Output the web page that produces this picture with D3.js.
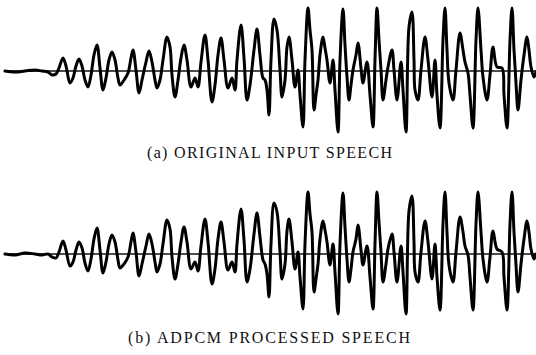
<!DOCTYPE html>
<html>
<head>
<meta charset="utf-8">
<script src="https://cdn.jsdelivr.net/npm/d3@7"></script>
<style>
  html, body { margin: 0; padding: 0; background: #fff; }
  svg { display: block; }
  .cap { font-family: "Liberation Serif", "DejaVu Serif", serif; font-size: 16px; fill: #111; }
</style>
</head>
<body>
<svg id="chart" width="536" height="355"></svg>
<script>
// sample index (time axis)
const samples = [
  0, 10, 20, 30, 37, 43, 47, 51, 54, 58, 61, 65, 68, 71, 74, 77, 80, 83, 86, 89,
  92, 95, 98, 101, 104, 107, 110, 113, 115, 119, 123, 126, 128, 131, 134, 137, 141, 144, 147, 150,
  152, 155, 158, 162, 165, 167, 170, 173, 176, 179, 182, 186, 190, 193, 196, 200, 203, 207, 210, 213,
  216, 219, 223, 227, 230, 232, 236, 239, 242, 245, 249, 252, 255, 258, 260, 262, 264, 266, 269, 272,
  275, 277, 280, 282, 284, 287, 290, 293, 295, 298, 300, 303, 305, 307, 309, 311, 313, 315, 318, 320,
  322, 325, 328, 330, 333, 335, 338, 340, 342, 344, 346, 348, 351, 353, 356, 358, 362, 365, 368, 370,
  372, 374, 376, 378, 381, 383, 387, 389, 392, 396, 398, 401, 404, 407, 409, 410, 413, 416, 420, 423,
  427, 430, 432, 435, 438, 440, 442, 444, 448, 451, 455, 458, 460, 463, 465, 468, 471, 473, 476, 478,
  482, 485, 488, 492, 497, 499, 502, 505, 507, 509, 511, 513, 516, 519, 522, 524, 526, 529, 531
];

// (a) original input speech amplitude
const original = [
  0, -1, 0, 1, 0, -1, -4, -3, 3, 13, 5, -12, -7, 5, 12, 5, -9, -16, -4, 16,
  26, 3, -19, -7, 11, 19, 11, -7, -14, -9, -2, 13, 21, 1, -22, -9, 9, 20, 9, -9,
  -17, -9, 11, 34, 24, -4, -26, -9, 13, 26, 11, -16, -7, -16, 9, 36, 11, -31, -14, 16,
  33, 11, -17, -7, -19, 11, 46, 13, -29, -14, 21, 42, 16, -7, -9, -19, -44, 11, 52, 41,
  1, -26, -9, 24, 34, 11, -16, 1, -24, -56, 11, 63, 41, 21, -39, -24, -9, 16, 34, 23,
  11, -12, 11, -19, -61, 11, 62, 26, -6, -29, -14, 1, 16, 28, 3, -12, 9, -24, -56, 11,
  63, 31, 1, -29, -9, 4, 21, 1, -29, 9, -19, -61, 44, 59, 11, -19, -29, 1, 34, 11,
  -26, 11, -24, -57, 31, 63, 21, -12, -29, 1, 38, 21, 9, -2, -24, -57, 31, 63, 21, -6,
  -29, -4, 24, 4, 3, -24, -57, 31, 63, 21, -12, -39, -9, 16, 34, 21, 4, -6, -1
];

// (b) ADPCM processed speech amplitude
const processed = [
  0, -1, 1, 0, -1, 0, -3, -4, 2, 13, 4, -12, -8, 4, 12, 6, -9, -17, -5, 15,
  26, 4, -19, -8, 10, 19, 12, -6, -14, -10, -3, 12, 21, 2, -22, -10, 8, 20, 10, -8,
  -18, -10, 10, 34, 25, -3, -25, -10, 12, 27, 12, -15, -8, -17, 8, 35, 12, -30, -15, 15,
  32, 12, -16, -8, -18, 10, 45, 14, -28, -15, 20, 41, 17, -6, -10, -20, -43, 10, 51, 42,
  2, -25, -10, 23, 35, 12, -15, 2, -23, -55, 10, 62, 40, 22, -38, -25, -10, 15, 33, 24,
  12, -11, 10, -18, -60, 10, 61, 27, -5, -28, -15, 2, 15, 29, 4, -11, 8, -23, -55, 10,
  62, 32, 2, -28, -10, 5, 20, 2, -28, 8, -18, -60, 43, 58, 12, -18, -28, 2, 33, 12,
  -25, 10, -23, -56, 30, 62, 22, -11, -28, 2, 37, 22, 8, -1, -23, -56, 30, 62, 22, -5,
  -28, -3, 23, 5, 2, -23, -56, 30, 62, 22, -11, -38, -10, 15, 33, 22, 5, -5, 0
];

const captions = ["(a) ORIGINAL INPUT SPEECH", "(b) ADPCM PROCESSED SPEECH"];

const svg = d3.select("#chart");

const x = d3.scaleLinear().domain([0, 531]).range([5, 536]);

const panels = [
  { values: original, base: 71, cap: captions[0], capY: 158, capX0: 147, capX1: 392 },
  { values: processed, base: 254, cap: captions[1], capY: 343, capX0: 128, capX1: 410 }
];

panels.forEach(p => {
  const y = d3.scaleLinear().domain([-64, 64]).range([p.base + 64, p.base - 64]);

  // zero line
  svg.append("line")
    .attr("x1", x(0)).attr("x2", x(531))
    .attr("y1", y(0)).attr("y2", y(0))
    .attr("stroke", "#111")
    .attr("stroke-width", 1.7);

  const line = d3.line()
    .x((d, i) => x(samples[i]))
    .y(d => y(d))
    .curve(d3.curveCatmullRom.alpha(0.5));

  svg.append("path")
    .datum(p.values)
    .attr("d", line)
    .attr("fill", "none")
    .attr("stroke", "#000")
    .attr("stroke-width", 3)
    .attr("stroke-linejoin", "round")
    .attr("stroke-linecap", "round");

  svg.append("text")
    .attr("class", "cap")
    .attr("x", p.capX0)
    .attr("y", p.capY)
    .attr("textLength", p.capX1 - p.capX0)
    .attr("lengthAdjust", "spacing")
    .text(p.cap);
});
</script>
</body>
</html>
